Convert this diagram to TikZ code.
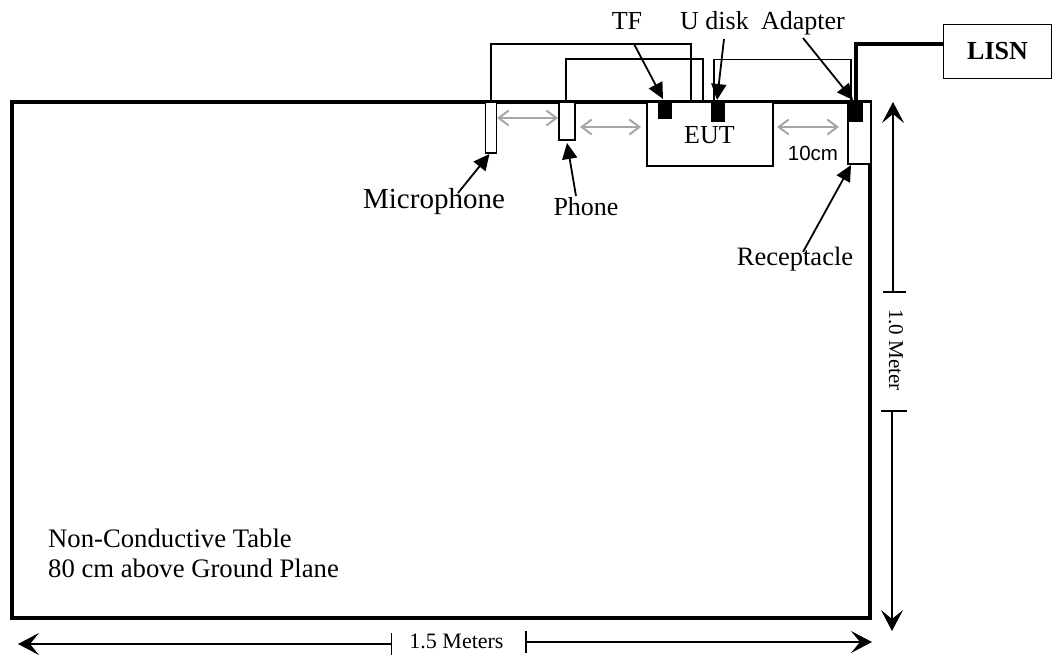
\documentclass[tikz,border=0pt]{standalone}
\usepackage{fontspec}
\setmainfont{Liberation Serif}
\newfontfamily\arialf{Liberation Sans}
\usetikzlibrary{arrows.meta,calc}
\tikzset{
  x=1pt,y=-1pt,
  lab/.style={anchor=base,inner sep=0pt,text=black,font=\fontsize{#1}{#1}\selectfont},
  box/.style={draw=black,line width=1.7pt,fill=white,anchor=north west,inner sep=0pt,outer sep=0pt},
  plug/.style={fill=black,anchor=north west,inner sep=0pt,outer sep=0pt},
  wire/.style={draw=black,line width=1.8pt},
  pointer/.style={draw=black,line width=1.8pt,-{Stealth[length=16pt,width=15pt,inset=0pt]}},
  gapline/.style={draw=gray!70,line width=2pt,{Straight Barb[length=10pt,width=15pt,line width=2pt]}-{Straight Barb[length=10pt,width=15pt,line width=2pt]}},
  dimline/.style={draw=black,line width=1.3pt,-{Stealth[length=21pt,width=22pt,inset=9pt]}},
  tick/.style={draw=black,line width=1.3pt},
}
\begin{document}
\begin{tikzpicture}
\useasboundingbox (0,0) rectangle (1052,656);
% table
\node[box,line width=3.6pt,minimum width=858pt,minimum height=516pt] (table) at (12,102) {};
% devices
\node[box,minimum width=126pt,minimum height=64pt] (eut) at (647,102) {};
\node[box,minimum width=11pt,minimum height=51pt] (mic) at (485.5,102) {};
\node[box,minimum width=16pt,minimum height=38pt] (phone) at (559,102) {};
\node[box,line width=1.3pt,minimum width=23pt,minimum height=62pt] (recep) at (848,102) {};
\node[plug,minimum width=14pt,minimum height=17pt] (tf) at (658,102) {};
\node[plug,minimum width=14pt,minimum height=20pt] (udisk) at (711,102) {};
\node[plug,minimum width=14pt,minimum height=20pt] (adapter) at (849,102) {};
\node[box,minimum width=108pt,minimum height=54pt] (lisn) at (943.5,24.5) {};
% labels
\node[lab=26] (tflab) at (627,29) {TF};
\node[lab=26] (udlab) at (714.5,29) {U disk};
\node[lab=26] (adlab) at (803,29) {Adapter};
\node[lab=29] (miclab) at (434,208) {Microphone};
\node[lab=26] (phlab) at (586,215) {Phone};
\node[lab=26] (eutlab) at (709.5,143) {EUT};
\node[lab=20.5,font=\arialf\fontsize{20.5}{20.5}\selectfont] (tenlab) at (813,160) {10cm};
\node[lab=26.5] (reclab) at (795,265) {Receptacle};
\node[lab=26,font=\bfseries\fontsize{26}{26}\selectfont] (lisnlab) at (997.5,59) {LISN};
\node[lab=26.7,anchor=base west] (t1) at (48,547) {Non-Conductive Table};
\node[lab=26.7,anchor=base west] (t2) at (48,577) {80 cm above Ground Plane};
\node[lab=22] (w15) at (456.5,648) {1.5 Meters};
\node[lab=21,rotate=-90] (h10) at (889,350) {1.0 Meter};
% wires
\coordinate (wa) at (691,44);
\coordinate (wb) at (703,59);
\coordinate (wc) at (714,59.5);
\coordinate (wd) at (851,59.5);
\coordinate (wl) at (856,44);
\draw[wire] (mic.north) |- (wa) -- (wa |- table.north);
\draw[wire] ($(phone.north)+(-1,0)$) |- (wb) -- (wb |- table.north);
\draw[wire] (wc |- table.north) -- (wc) -- (wd) -- (wd |- table.north);
\draw[draw=black,line width=3.6pt] (lisn.west |- wl) -- (wl) -- (wl |- adapter.north);
% gap arrows
\coordinate (g1) at (497,118); \coordinate (g2) at (558,118);
\coordinate (g3) at (580,127); \coordinate (g4) at (641,127);
\coordinate (g5) at (777,127); \coordinate (g6) at (839,127);
\draw[gapline] (g1) -- (g2);
\draw[gapline] (g3) -- (g4);
\draw[gapline] (g5) -- (g6);
% pointers
\coordinate (p1) at (634,44);
\coordinate (p2) at (724,39);
\coordinate (p3) at (803,38);
\coordinate (p4) at (803,252);
\coordinate (p5) at (458,193);
\coordinate (p6) at (576,196);
\draw[pointer] (p1) -- ($(tf.north)+(-2,-3)$);
\draw[pointer] (p2) -- ($(udisk.north)+(-1,-2)$);
\draw[pointer] (p3) -- ($(adapter.north)+(-3,-2)$);
\draw[pointer] (p4) -- ($(recep.south west)+(3,1)$);
\draw[pointer] (p5) -- ($(mic.south)+(-1.5,1)$);
\draw[pointer] (p6) -- ($(phone.south)+(0,3)$);
% dimensions
\coordinate (hl) at (18,644); \coordinate (hm) at (391.5,644);
\coordinate (hr) at (872,642); \coordinate (hn) at (526,642);
\coordinate (vt) at (893,102); \coordinate (vm) at (893,292);
\coordinate (vb) at (892,631); \coordinate (vn) at (892,411);
\draw[dimline] (hm) -- (hl);
\draw[dimline] (hn) -- (hr);
\draw[dimline] (vm) -- (vt);
\draw[dimline] (vn) -- (vb);
\draw[tick] ($(hm)+(0,-11)$) -- ($(hm)+(0,11)$);
\draw[tick] ($(hn)+(0,-11)$) -- ($(hn)+(0,11)$);
\draw[tick] ($(vm)+(-10,0)$) -- ($(vm)+(13,0)$);
\draw[tick] ($(vn)+(-11,0)$) -- ($(vn)+(15,0)$);
\end{tikzpicture}
\end{document}
